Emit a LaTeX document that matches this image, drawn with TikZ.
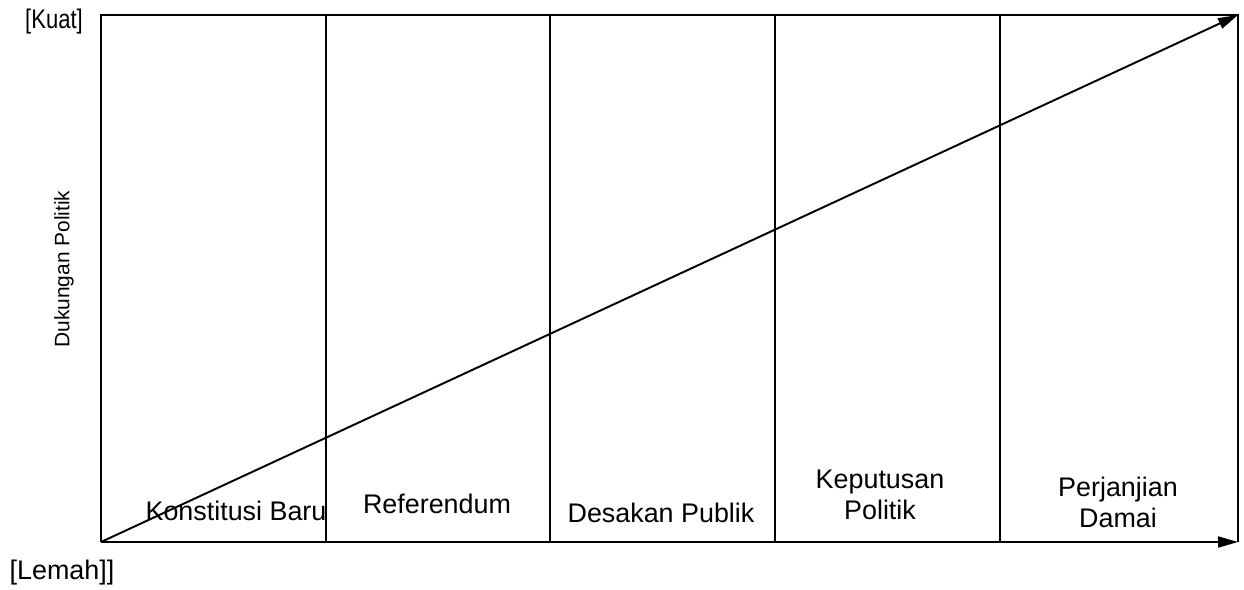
\documentclass[tikz,border=0pt]{standalone}
\usepackage{fontspec}
\setmainfont{Liberation Sans}
\usetikzlibrary{arrows.meta}
\begin{document}
\begin{tikzpicture}[x=0.02cm, y=-0.02cm]
\tikzstyle{frame}=[line width=1.1pt]
\tikzstyle{axis}=[line width=1.1pt, -{Triangle[length=0.4cm, width=0.22cm]}]
\tikzstyle{stage}=[align=center, inner sep=0pt, font=\fontsize{15.3}{17.6}\selectfont]
\tikzstyle{level}=[inner sep=0pt, font=\fontsize{15.3}{18}\selectfont]

\useasboundingbox (0,0) rectangle (1244,589);

\coordinate (origin) at (101, 542);
\coordinate (top_left) at (101, 15);
\coordinate (top_right) at (1238, 15);
\coordinate (bottom_right) at (1238, 542);

\coordinate (d_1_t) at (326, 15);
\coordinate (d_2_t) at (550, 15);
\coordinate (d_3_t) at (775, 15);
\coordinate (d_4_t) at (1000, 15);
\coordinate (d_1_b) at (326, 542);
\coordinate (d_2_b) at (550, 542);
\coordinate (d_3_b) at (775, 542);
\coordinate (d_4_b) at (1000, 542);


\node[level, xscale=0.82] (kuat) at (54, 22) {[Kuat]};
\node[level] (lemah) at (62, 573) {[Lemah]]};
\node[rotate=90, inner sep=0pt, font=\fontsize{11.9}{14}\selectfont] (dukungan) at (64, 269) {Dukungan Politik};

\node[stage] (s_1) at (236, 511) {Konstitusi Baru};
\node[stage] (s_2) at (437, 504) {Referendum};
\node[stage] (s_3) at (661, 513) {Desakan Publik};
\node[stage] (s_4) at (880, 495) {Keputusan\\Politik};
\node[stage] (s_5) at (1118, 502) {Perjanjian\\Damai};

\draw[frame] (origin) -- (top_left) -- (top_right) -- (bottom_right);

\draw[frame] (d_1_t) -- (d_1_b);
\draw[frame] (d_2_t) -- (d_2_b);
\draw[frame] (d_3_t) -- (d_3_b);
\draw[frame] (d_4_t) -- (d_4_b);

\draw[axis] (origin) -- (bottom_right);
\draw[axis] (origin) -- (top_right);

\end{tikzpicture}
\end{document}
